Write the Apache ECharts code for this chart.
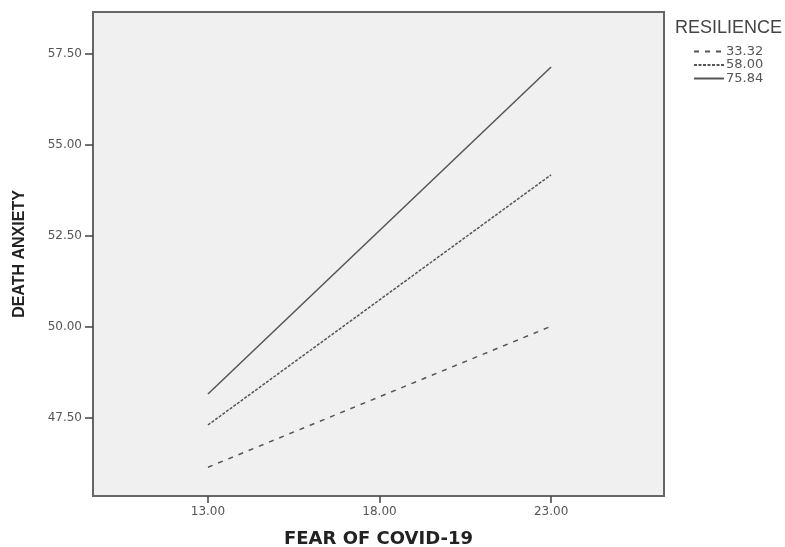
<!DOCTYPE html>
<html>
<head>
    <meta charset="utf-8">
    <title>Death Anxiety by Fear of COVID-19</title>
    <script src="https://cdn.jsdelivr.net/npm/echarts@6.0.0/dist/echarts.min.js"></script>
    <style>
        html, body { margin: 0; padding: 0; background: #fff; }
        #chart { width: 785px; height: 547px; }
    </style>
</head>
<body>
    <div id="chart"></div>
    <script>
        // values
        const fearValues = [13, 23];
        const resilienceLow = [46.15, 50.02];   // 33.32
        const resilienceMid = [47.31, 54.18];   // 58.00
        const resilienceHigh = [48.16, 57.14];  // 75.84
        const legendNames = ['33.32', '58.00', '75.84'];
        const xTicks = [13, 18, 23];
        const yTicks = [47.5, 50, 52.5, 55, 57.5];

        const lineColor = '#555';
        const pairs = (ys) => fearValues.map((x, i) => [x, ys[i]]);

        const chart = echarts.init(document.getElementById('chart'));
        chart.setOption({
            animation: false,
            textStyle: { fontFamily: 'Liberation Sans, Arial, sans-serif' },
            grid: {
                left: 93, right: 121, top: 12, bottom: 51,
                outerBoundsMode: 'none',
                containLabel: false,
                show: true,
                backgroundColor: '#f0f0f0',
                borderColor: '#666',
                borderWidth: 2
            },
            title: {
                text: 'RESILIENCE',
                left: 675, top: 19, padding: 0,
                textStyle: { fontSize: 18, fontWeight: 'normal', color: '#444' }
            },
            legend: {
                orient: 'vertical',
                left: 693, top: 45, padding: 0,
                itemWidth: 30, itemHeight: 13,
                itemGap: 0.5,
                data: legendNames,
                itemStyle: { opacity: 0, borderWidth: 0 },
                textStyle: { fontSize: 13, color: '#555', fontFamily: 'DejaVu Sans', padding: [0, 0, 0, -3] }
            },
            xAxis: {
                type: 'value',
                min: 9.65, max: 26.29,
                name: 'FEAR OF COVID-19',
                nameLocation: 'middle',
                nameGap: 34,
                nameTextStyle: { fontSize: 18, fontWeight: 'bold', color: '#222', fontFamily: 'DejaVu Sans' },
                axisLine: { show: false },
                splitLine: { show: false },
                axisTick: { show: true, customValues: xTicks, length: 7, lineStyle: { color: '#444', width: 1.5 } },
                axisLabel: {
                    customValues: xTicks, margin: 10,
                    fontSize: 12, color: '#555', fontFamily: 'DejaVu Sans',
                    formatter: (v) => v.toFixed(2)
                }
            },
            yAxis: {
                type: 'value',
                min: 45.36, max: 58.65,
                name: 'DEATH ANXIETY',
                nameLocation: 'middle',
                nameRotate: 90,
                nameGap: 65,
                nameTextStyle: { fontSize: 16, fontWeight: 'bold', color: '#222' },
                axisLine: { show: false },
                splitLine: { show: false },
                axisTick: { show: true, customValues: yTicks, length: 8, lineStyle: { color: '#444', width: 1.5 } },
                axisLabel: {
                    customValues: yTicks, margin: 11,
                    fontSize: 12, color: '#555', fontFamily: 'DejaVu Sans',
                    formatter: (v) => v.toFixed(2)
                }
            },
            series: [
                {
                    name: legendNames[0], type: 'line', data: pairs(resilienceLow),
                    symbol: 'none', lineStyle: { color: lineColor, width: 1.5, type: [5, 6] },
                    itemStyle: { color: lineColor }
                },
                {
                    name: legendNames[1], type: 'line', data: pairs(resilienceMid),
                    symbol: 'none', lineStyle: { color: lineColor, width: 1.5, type: [3, 1.5] },
                    itemStyle: { color: lineColor }
                },
                {
                    name: legendNames[2], type: 'line', data: pairs(resilienceHigh),
                    symbol: 'none', lineStyle: { color: lineColor, width: 1.5, type: 'solid' },
                    itemStyle: { color: lineColor }
                }
            ]
        });
    </script>
</body>
</html>
